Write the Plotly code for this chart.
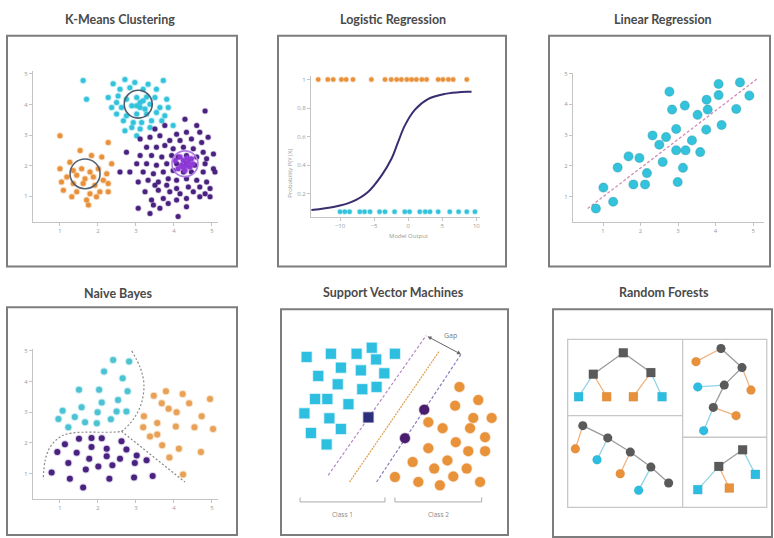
import plotly.graph_objects as go

W, H = 774, 538

# ---------------- K-Means Clustering ----------------
km_cyan_x = [3.11, 1.61, 2.40, 2.71, 3.72, 2.97, 3.32, 2.58, 2.84, 3.19, 3.54, 1.70, 2.27, 2.53, 2.49, 2.75,
             3.02, 3.28, 3.50, 3.81, 2.36, 2.62, 2.89, 3.11, 3.37, 3.63, 3.85, 2.49, 2.75, 3.02, 3.28, 3.54,
             3.76, 2.67, 2.93, 3.15, 3.41, 3.68, 2.71, 3.11, 3.37, 3.98, 3.02, 2.89, 3.19, 3.02, 3.24, 3.11]
km_cyan_y = [5.12, 4.79, 4.68, 4.82, 4.79, 4.72, 4.66, 4.50, 4.55, 4.50, 4.50, 4.17, 4.23, 4.28, 4.07, 4.17,
             4.23, 4.25, 4.23, 4.17, 3.90, 3.90, 3.96, 3.90, 4.01, 3.90, 3.90, 3.69, 3.63, 3.69, 3.69, 3.74,
             3.63, 3.47, 3.41, 3.41, 3.47, 3.47, 3.14, 3.20, 3.25, 3.31, 2.98, 3.25, 4.12, 3.96, 3.85, 4.07]
km_orange_x = [1.00, 2.27, 1.53, 1.83, 2.10, 1.26, 2.36, 1.00, 1.35, 1.57, 1.79, 2.01, 2.23, 1.18, 1.44, 1.66,
               1.88, 2.14, 1.04, 1.35, 1.61, 1.92, 2.27, 1.09, 1.44, 1.79, 2.05, 2.27, 1.31, 1.70, 1.96, 1.75]
km_orange_y = [2.98, 2.76, 2.49, 2.33, 2.28, 2.11, 2.06, 1.90, 1.84, 1.90, 1.79, 1.90, 1.73, 1.63, 1.68, 1.57,
               1.63, 1.52, 1.46, 1.41, 1.41, 1.36, 1.41, 1.19, 1.14, 1.08, 1.14, 1.14, 0.98, 0.87, 0.98, 0.71]
km_purple_x = [4.82, 4.29, 4.60, 3.50, 3.76, 4.07, 4.33, 4.68, 4.90, 3.11, 3.37, 3.63, 3.89, 4.16, 4.46, 4.73,
               3.28, 3.54, 3.76, 3.98, 4.25, 4.51, 4.77, 5.04, 2.75, 3.11, 3.41, 3.68, 3.94, 4.11, 4.33, 4.60,
               4.86, 2.58, 3.02, 3.28, 3.54, 3.81, 4.07, 4.33, 4.55, 4.82, 5.04, 2.84, 3.19, 3.46, 3.72, 3.98,
               4.25, 4.46, 4.77, 5.08, 3.06, 3.32, 3.59, 3.85, 4.07, 4.33, 4.60, 4.86, 3.50, 3.81, 4.07, 4.38,
               4.68, 4.95, 3.24, 3.59, 3.89, 4.16, 4.51, 4.82, 3.41, 3.72, 4.07, 4.33, 4.68, 4.95, 3.06, 3.46,
               3.63, 3.85, 4.33, 4.11, 3.37]
km_purple_y = [3.79, 3.52, 3.31, 3.20, 3.31, 3.03, 3.09, 3.09, 2.93, 2.87, 2.93, 2.98, 2.82, 2.82, 2.87, 2.76,
               2.60, 2.60, 2.66, 2.55, 2.60, 2.55, 2.44, 2.38, 2.44, 2.33, 2.33, 2.28, 2.33, 2.28, 2.33, 2.28,
               2.22, 1.79, 2.06, 2.06, 2.01, 2.06, 2.06, 2.06, 2.01, 2.06, 1.90, 1.79, 1.79, 1.73, 1.79, 1.84,
               1.79, 1.79, 1.79, 1.79, 1.46, 1.52, 1.46, 1.57, 1.52, 1.57, 1.52, 1.46, 1.36, 1.36, 1.25, 1.30,
               1.30, 1.25, 1.14, 1.19, 1.14, 1.08, 1.14, 1.08, 0.87, 0.92, 0.87, 0.92, 0.98, 0.98, 0.60, 0.71,
               0.60, 0.76, 0.65, 0.33, 0.43]
km_core_x = [4.16, 4.25, 4.38, 4.20, 4.42, 4.29, 4.11, 4.46, 4.03, 4.33, 4.24, 4.35, 4.50]
km_core_y = [2.28, 2.17, 2.11, 2.01, 1.95, 1.84, 1.90, 2.22, 2.17, 2.00, 1.95, 2.25, 2.05]
km_centroid_x = [1.66, 3.06, 4.29]
km_centroid_y = [1.73, 4.01, 2.06]
km_centroid_color = ["#556070", "#4d5d6d", "#b27ae6"]
axis_ticks = [1, 2, 3, 4, 5]

# ---------------- Logistic Regression ----------------
lg_curve_x = [-14.2, -10.8, -8.3, -5.9, -3.9, -2.45, -1.5, -0.5, 1.0, 2.9, 5.4, 7.8, 9.3]
lg_curve_y = [0.087, 0.11, 0.144, 0.214, 0.33, 0.446, 0.56, 0.678, 0.79, 0.864, 0.90, 0.914, 0.915]
lg_pos_x = [-13.2, -11.8, -11.0, -9.8, -9.1, -8.1, -5.4, -3.4, -2.5, -1.7, -1.0, -0.2, 0.5, 1.2, 2.0, 2.7,
            4.4, 5.1, 5.9, 6.6, 8.6]
lg_neg_x = [-10.0, -9.3, -8.6, -7.1, -6.4, -5.6, -4.2, -3.4, -2.0, -0.5, 0.2, 1.7, 2.5, 3.2, 4.4, 6.1,
            7.4, 8.6, 9.8]
lg_pos_level = 1.0
lg_neg_level = 0.075
lg_xticks = [-10, -5, 0, 5, 10]
lg_yticks = [0.2, 0.4, 0.6, 0.8, 1]
lg_yticktext = ["0.2", "0.4", "0.6", "0.8", "1"]
lg_legend_labels = ["1", "0"]

# ---------------- Linear Regression ----------------
lr_x = [0.81, 1.01, 1.27, 1.39, 1.68, 1.81, 1.97, 2.12, 2.17, 2.32, 2.50, 2.59, 2.68, 2.77, 2.84, 2.95, 2.95,
        2.99, 3.13, 3.18, 3.20, 3.37, 3.52, 3.59, 3.75, 3.76, 3.79, 4.08, 4.08, 4.16, 4.55, 4.65, 4.90]
lr_y = [0.62, 1.30, 0.84, 1.95, 2.31, 1.40, 2.26, 1.40, 1.77, 2.99, 2.69, 2.13, 2.94, 4.41, 3.83, 3.20, 2.51,
        1.48, 1.94, 3.96, 2.51, 2.83, 3.66, 2.45, 3.18, 4.15, 3.83, 4.66, 4.30, 3.33, 3.85, 4.71, 4.28]
lr_fit_x = [0.59, 5.12]
lr_fit_y = [0.62, 4.84]

# ---------------- Naive Bayes ----------------
nb_cyan_x = [2.40, 2.82, 2.16, 2.65, 1.50, 2.03, 2.78, 2.53, 2.10, 1.57, 1.07, 0.96, 1.39, 1.99, 2.49, 2.75,
             1.66, 1.97, 2.34, 1.22]
nb_cyan_y = [4.70, 4.65, 4.33, 4.11, 3.73, 3.73, 3.68, 3.40, 3.32, 3.16, 3.05, 2.78, 2.84, 3.00, 3.02, 3.02,
             2.67, 2.64, 2.77, 2.51]
nb_purple_x = [1.13, 1.50, 1.83, 2.10, 2.62, 0.93, 1.44, 1.83, 2.23, 2.75, 3.02, 1.77, 2.23, 2.58, 1.22, 2.01,
               2.38, 2.97, 3.28, 1.68, 0.78, 1.26, 2.30, 2.95, 3.44, 1.61]
nb_purple_y = [1.95, 2.13, 2.16, 2.15, 2.05, 1.70, 1.68, 1.86, 1.81, 1.78, 1.59, 1.48, 1.56, 1.48, 1.34, 1.23,
               1.27, 1.34, 1.43, 1.13, 1.03, 0.83, 0.83, 0.87, 0.92, 0.54]
nb_orange_x = [3.47, 3.79, 4.23, 3.68, 4.40, 4.95, 3.21, 3.86, 4.07, 4.73, 3.19, 3.56, 4.05, 4.54, 5.03, 3.37,
               3.56, 3.69, 4.13, 4.71, 3.88, 4.24]
nb_orange_y = [3.54, 3.68, 3.59, 3.29, 3.29, 3.43, 2.87, 3.11, 3.00, 2.87, 2.51, 2.65, 2.53, 2.51, 2.45, 2.21,
               2.27, 1.92, 1.81, 1.70, 1.52, 0.97]
nb_bound1_x = [2.89, 3.11, 3.21, 3.15, 2.97, 2.71, 2.62, 1.31, 1.00, 0.74, 0.61, 0.56]
nb_bound1_y = [5.00, 4.46, 3.92, 3.32, 2.84, 2.46, 2.38, 2.32, 2.19, 1.86, 1.43, 0.80]
nb_bound2_x = [2.62, 4.29]
nb_bound2_y = [2.38, 0.72]

# ---------------- Support Vector Machines ----------------
svm_c1_x = [1.13, 2.20, 3.33, 4.00, 4.19, 5.02, 2.64, 3.52, 4.55, 1.64, 2.50, 3.58, 4.21, 1.50, 2.04, 2.97,
            1.03, 2.13, 2.64, 1.32, 2.01]
svm_c1_y = [7.87, 8.01, 8.01, 8.28, 7.76, 8.01, 7.39, 7.27, 7.14, 7.02, 6.65, 6.43, 6.53, 5.99, 5.99, 5.76,
            5.35, 5.13, 4.65, 4.47, 3.96]
svm_c1_sv_x = [3.85]
svm_c1_sv_y = [5.17]
svm_c2_x = [7.86, 8.69, 7.67, 8.47, 9.28, 6.49, 7.12, 8.33, 8.99, 7.70, 6.49, 8.25, 8.99, 5.80, 7.33, 6.75,
            8.18, 5.02, 6.05, 7.59, 7.00, 8.77]
svm_c2_y = [6.53, 5.94, 5.69, 5.14, 5.14, 4.95, 4.68, 4.68, 4.28, 4.06, 3.79, 3.66, 3.66, 3.17, 3.24, 2.88,
            2.88, 2.50, 2.28, 2.53, 2.13, 2.28]
svm_c2_sv_x = [6.31, 5.46]
svm_c2_sv_y = [5.51, 4.24]
svm_margin_left_x = [2.08, 6.39]
svm_margin_left_y = [2.58, 8.82]
svm_hyper_x = [3.02, 6.96]
svm_hyper_y = [2.28, 8.11]
svm_margin_right_x = [4.21, 7.93]
svm_margin_right_y = [2.28, 7.99]
svm_class_labels = ["Class 1", "Class 2"]
svm_class_span_x = [[0.84, 4.58], [5.02, 8.84]]
svm_bracket_y = 1.39
svm_gap_label = "Gap"

# ---------------- Random Forests ----------------
rf_trees = [
    dict(x=[3.21, 1.84, 4.47, 1.17, 2.45, 3.67, 4.98],
         y=[8.09, 7.15, 7.22, 6.16, 6.16, 6.16, 6.16],
         kind=["n", "n", "n", "c", "o", "o", "c"],
         edges=[(0, 1), (0, 2), (1, 3), (1, 4), (2, 5), (2, 6)], symbol="square"),
    dict(x=[7.67, 6.53, 8.63, 7.82, 9.04, 6.61, 7.32, 8.36, 6.88],
         y=[8.28, 7.70, 7.44, 6.67, 6.45, 6.59, 5.69, 5.33, 4.67],
         kind=["n", "o", "n", "n", "o", "c", "n", "o", "c"],
         edges=[(0, 1), (0, 2), (2, 3), (2, 4), (3, 5), (3, 6), (6, 7), (6, 8)], symbol="circle"),
    dict(x=[1.36, 1.02, 2.50, 2.01, 3.53, 3.07, 4.47, 3.91, 5.28],
         y=[4.89, 3.87, 4.35, 3.39, 3.73, 2.78, 3.07, 2.05, 2.37],
         kind=["n", "o", "n", "c", "n", "o", "n", "c", "n"],
         edges=[(0, 1), (0, 2), (2, 3), (2, 4), (4, 5), (4, 6), (6, 7), (6, 8)], symbol="circle"),
    dict(x=[8.66, 7.57, 9.24, 6.61, 8.05],
         y=[3.83, 3.10, 2.75, 2.08, 2.15],
         kind=["n", "n", "c", "c", "o"],
         edges=[(0, 1), (0, 2), (1, 3), (1, 4)], symbol="square"),
]

titles = ["K-Means Clustering", "Logistic Regression", "Linear Regression",
          "Naive Bayes", "Support Vector Machines", "Random Forests"]

# ---------------- styling / layout helpers ----------------
CYAN = "#33c3dc"
ORANGE = "#e8913a"
PURPLE = "#4a2280"
VIOLET = "#8e3ad6"
GRAY_TXT = "#4a4a4a"
TICK_FONT = dict(family="Open Sans", size=6, color="#9a9a9a")


def dx(a, b):
    return [a / W, b / W]


def dy(top, bottom):
    return [1 - bottom / H, 1 - top / H]


fig = go.Figure()
layout = dict(width=W, height=H, margin=dict(l=0, r=0, t=0, b=0),
              paper_bgcolor="white", plot_bgcolor="rgba(0,0,0,0)", showlegend=False)


def axis_visible(domain, rng, tickvals, ticktext=None):
    d = dict(domain=domain, range=rng, showline=True, linecolor="#c4c4c4", linewidth=1,
             ticks="outside", ticklen=3, tickcolor="#c4c4c4", tickfont=TICK_FONT,
             tickvals=tickvals, showgrid=False, zeroline=False, fixedrange=True)
    if ticktext is not None:
        d["ticktext"] = ticktext
    return d


def axis_hidden(domain, rng):
    return dict(domain=domain, range=rng, visible=False, showgrid=False, zeroline=False, fixedrange=True)


layout["xaxis"] = axis_visible(dx(33, 218), [0.29, 5.16], axis_ticks)
layout["yaxis"] = axis_visible(dy(68, 220), [0.16, 5.11], axis_ticks)
layout["xaxis"]["anchor"] = "y"
layout["yaxis"]["anchor"] = "x"

layout["xaxis2"] = axis_visible(dx(311, 480), [-14.26, 10.54], lg_xticks)
layout["yaxis2"] = axis_visible(dy(73, 215), [0.04, 1.028], lg_yticks, lg_yticktext)
layout["xaxis2"]["anchor"] = "y2"
layout["yaxis2"]["anchor"] = "x2"

layout["xaxis3"] = axis_visible(dx(573, 764), [0.2, 5.29], axis_ticks)
layout["yaxis3"] = axis_visible(dy(70, 220), [0.19, 5.03], axis_ticks)
layout["xaxis3"]["anchor"] = "y3"
layout["yaxis3"]["anchor"] = "x3"

layout["xaxis4"] = axis_visible(dx(33, 218), [0.29, 5.16], axis_ticks)
layout["yaxis4"] = axis_visible(dy(348, 499), [0.16, 5.06], axis_ticks)
layout["xaxis4"]["anchor"] = "y4"
layout["yaxis4"]["anchor"] = "x4"

layout["xaxis5"] = axis_hidden(dx(281, 508), [0, 10])
layout["yaxis5"] = axis_hidden(dy(308, 533), [0, 10])
layout["xaxis5"]["anchor"] = "y5"
layout["yaxis5"]["anchor"] = "x5"

layout["xaxis6"] = axis_hidden(dx(553, 772), [0, 10])
layout["yaxis6"] = axis_hidden(dy(308, 537), [0, 10])
layout["xaxis6"]["anchor"] = "y6"
layout["yaxis6"]["anchor"] = "x6"


def dots(x, y, color, size, xa, ya, symbol="circle", glow="rgba(0,0,0,0.08)", glow_w=1.5):
    fig.add_trace(go.Scatter(x=x, y=y, mode="markers", xaxis=xa, yaxis=ya, cliponaxis=False,
                             hoverinfo="skip",
                             marker=dict(color=color, size=size, symbol=symbol,
                                         line=dict(color=glow, width=glow_w))))


def line(x, y, color, width, xa, ya, dash="solid", shape="linear"):
    fig.add_trace(go.Scatter(x=x, y=y, mode="lines", xaxis=xa, yaxis=ya, cliponaxis=False,
                             hoverinfo="skip", line=dict(color=color, width=width, dash=dash, shape=shape)))


shapes = []
annotations = []

# Frames and titles
frames = [(7, 33, 237, 265), (278, 33, 506, 265), (549, 33, 770, 265),
          (7, 306, 237, 535), (281, 308, 508, 535), (553, 308, 772, 537)]
title_pos = [(120, 17), (393, 17), (663, 17), (118, 292), (393, 291), (664, 291)]
for (x0, y0, x1, y1) in frames:
    shapes.append(dict(type="rect", xref="paper", yref="paper", x0=x0 / W, x1=x1 / W,
                       y0=1 - y1 / H, y1=1 - y0 / H, line=dict(color="#7d7d7d", width=2),
                       fillcolor="rgba(0,0,0,0)", layer="below"))
for t, (cx, cy) in zip(titles, title_pos):
    annotations.append(dict(text="<b>" + t + "</b>", x=cx / W, y=1 - cy / H, xref="paper", yref="paper",
                            showarrow=False, font=dict(family="Lato", size=12.5, color=GRAY_TXT),
                            xanchor="center", yanchor="middle"))

# ---- K-Means
dots(km_orange_x, km_orange_y, ORANGE, 5, "x", "y", glow="rgba(232,145,58,0.3)", glow_w=2)
dots(km_cyan_x, km_cyan_y, CYAN, 5, "x", "y", glow="rgba(51,195,220,0.3)", glow_w=2)
dots(km_purple_x, km_purple_y, PURPLE, 5, "x", "y", glow="rgba(74,34,128,0.25)", glow_w=1.5)
dots(km_core_x, km_core_y, VIOLET, 5, "x", "y", glow="rgba(142,58,214,0.35)", glow_w=2)
rads = [(15 / 38, 15 / 30.75), (14 / 38, 14 / 30.75), (13 / 38, 13 / 30.75)]
for cx, cy, col, (rx, ry) in zip(km_centroid_x, km_centroid_y, km_centroid_color, rads):
    shapes.append(dict(type="circle", xref="x", yref="y", x0=cx - rx, x1=cx + rx, y0=cy - ry, y1=cy + ry,
                       line=dict(color=col, width=1.6)))

# ---- Logistic
line(lg_curve_x, lg_curve_y, "#3b2c70", 2, "x2", "y2", shape="spline")
dots(lg_pos_x, [lg_pos_level] * len(lg_pos_x), ORANGE, 4.5, "x2", "y2", glow="rgba(232,145,58,0.3)")
dots(lg_neg_x, [lg_neg_level] * len(lg_neg_x), CYAN, 4.5, "x2", "y2", glow="rgba(51,195,220,0.3)")
fig.add_trace(go.Scatter(x=[11.76, 11.76], y=[0.917, 0.826], mode="markers+text", xaxis="x2", yaxis="y2",
                         cliponaxis=False, hoverinfo="skip", text=lg_legend_labels, textposition="middle right",
                         textfont=dict(size=5, color="#999"),
                         marker=dict(symbol="square", size=7, color=[ORANGE, CYAN],
                                     line=dict(color=["rgba(232,145,58,0.3)", "rgba(51,195,220,0.35)"], width=2))))
annotations.append(dict(text="Probability P(Y|X)", x=290 / W, y=1 - 145 / H, xref="paper", yref="paper",
                        showarrow=False, textangle=-90, font=dict(family="Open Sans", size=6, color="#999")))
annotations.append(dict(text="Model Output", x=408 / W, y=1 - 234 / H, xref="paper", yref="paper",
                        showarrow=False, font=dict(family="Open Sans", size=6, color="#999")))

# ---- Linear regression
line(lr_fit_x, lr_fit_y, "#d38cb8", 1.3, "x3", "y3", dash="3px,2px")
dots(lr_x, lr_y, CYAN, 9, "x3", "y3", glow="rgba(30,150,170,0.45)", glow_w=1.2)

# ---- Naive Bayes
line(nb_bound1_x, nb_bound1_y, "#8a8a8a", 1.2, "x4", "y4", dash="2px,2px", shape="spline")
line(nb_bound2_x, nb_bound2_y, "#8a8a8a", 1.2, "x4", "y4", dash="2px,2px")
dots(nb_cyan_x, nb_cyan_y, "#4cc3d3", 6, "x4", "y4", glow="rgba(76,195,211,0.3)", glow_w=2)
dots(nb_purple_x, nb_purple_y, PURPLE, 6, "x4", "y4", glow="rgba(74,34,128,0.2)", glow_w=2)
dots(nb_orange_x, nb_orange_y, "#e8a257", 6, "x4", "y4", glow="rgba(232,162,87,0.3)", glow_w=2)

# ---- SVM
line(svm_margin_left_x, svm_margin_left_y, "#b58ac9", 1.2, "x5", "y5", dash="3px,2px")
line(svm_hyper_x, svm_hyper_y, "#e0a45a", 1.3, "x5", "y5", dash="2px,1px")
line(svm_margin_right_x, svm_margin_right_y, "#8e78c0", 1.2, "x5", "y5", dash="3px,2px")
dots(svm_c1_x, svm_c1_y, "#2ebfe0", 10, "x5", "y5", symbol="square", glow="rgba(46,191,224,0.3)", glow_w=1.5)
dots(svm_c1_sv_x, svm_c1_sv_y, "#2c2f7a", 10, "x5", "y5", symbol="square", glow="rgba(44,47,122,0.3)")
dots(svm_c2_x, svm_c2_y, "#e8923a", 10, "x5", "y5", glow="rgba(232,146,58,0.3)", glow_w=1.5)
dots(svm_c2_sv_x, svm_c2_sv_y, "#4b1d6e", 10, "x5", "y5", glow="rgba(75,29,110,0.3)")
annotations.append(dict(x=svm_margin_right_x[1], y=svm_margin_right_y[1], ax=svm_margin_left_x[1],
                        ay=svm_margin_left_y[1], xref="x5", yref="y5", axref="x5", ayref="y5",
                        showarrow=True, arrowhead=2, arrowside="end+start", arrowsize=0.8,
                        arrowwidth=1, arrowcolor="#666", text=""))
annotations.append(dict(text=svm_gap_label, x=7.45, y=8.85, xref="x5", yref="y5", showarrow=False,
                        font=dict(family="Open Sans", size=7, color="#777")))
for lab, (a, b) in zip(svm_class_labels, svm_class_span_x):
    line([a, a, b, b], [svm_bracket_y + 0.2, svm_bracket_y, svm_bracket_y, svm_bracket_y + 0.2],
         "#aaaaaa", 1, "x5", "y5")
    annotations.append(dict(text=lab, x=(a + b) / 2, y=svm_bracket_y - 0.55, xref="x5", yref="y5",
                            showarrow=False, font=dict(family="Open Sans", size=6.5, color="#888")))

# ---- Random forests
for (x0, y0, x1, y1) in [(0.67, 1.30, 9.76, 8.68)]:
    shapes.append(dict(type="rect", xref="x6", yref="y6", x0=x0, x1=x1, y0=y0, y1=y1,
                       line=dict(color="#c8c8c8", width=1.3)))
for (x0, y0, x1, y1) in [(5.92, 1.30, 5.92, 8.68), (0.67, 5.33, 5.92, 5.33), (5.92, 4.38, 9.76, 4.38)]:
    shapes.append(dict(type="line", xref="x6", yref="y6", x0=x0, x1=x1, y0=y0, y1=y1,
                       line=dict(color="#c8c8c8", width=1.3)))
node_col = {"n": "#5a5a5a", "c": "#2dbde0", "o": "#e8913a"}
edge_col = {"n": "#9a9a9a", "c": "#8fd3e6", "o": "#efb27e"}
for tr in rf_trees:
    for a, b in tr["edges"]:
        line([tr["x"][a], tr["x"][b]], [tr["y"][a], tr["y"][b]], edge_col[tr["kind"][b]], 1.3, "x6", "y6")
for tr in rf_trees:
    dots(tr["x"], tr["y"], [node_col[k] for k in tr["kind"]], 9, "x6", "y6", symbol=tr["symbol"],
         glow="rgba(0,0,0,0.05)", glow_w=1)

layout["shapes"] = shapes
layout["annotations"] = annotations
fig.update_layout(**layout)
fig.write_html("out.html", config={"displayModeBar": False, "staticPlot": True},
               post_script="document.body.style.margin='0';document.body.style.overflow='hidden';")
